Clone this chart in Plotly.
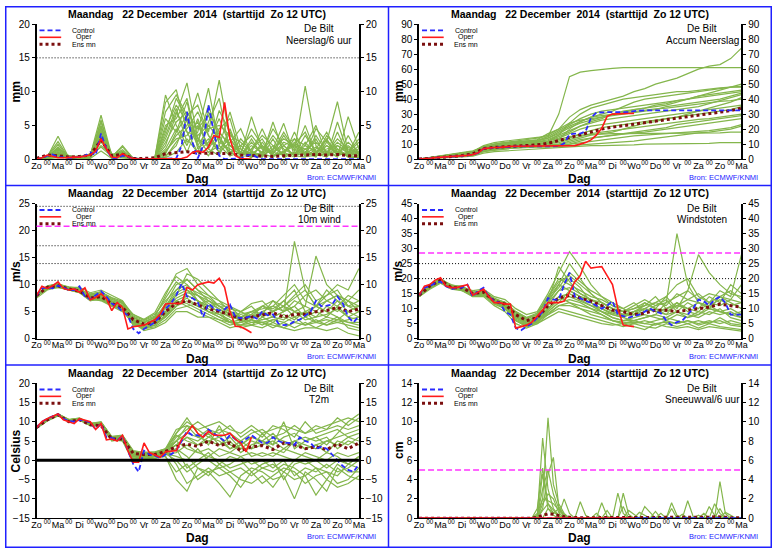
import plotly.graph_objects as go

# time axis (hours after Zo 12 UTC)
hours6 = list(range(0, 361, 6))
hours12 = list(range(0, 361, 12))
oper_hours = list(range(0, 241, 6))

day_names = ["Zo", "Ma", "Di", "Wo", "Do", "Vr", "Za", "Zo",
             "Ma", "Di", "Wo", "Do", "Vr", "Za", "Zo", "Ma"]
tick_text = []
for i in range(len(hours12)):
    tick_text.append(day_names[i // 2] if i % 2 == 0 else "<sup>00</sup>")

title_text = "Maandag\u00a0\u00a0 22 December\u00a0 2014\u00a0 (starttijd\u00a0 Zo 12 UTC)"

# ---------------- neerslag / 6 uur ----------------
precip_members = [
    [0,0.3,3.4,0.2,0.1,0.6,6.5,0.5,1.2,0,0,0.1,8.4,10.3,4.0,1.0,2.5,6.0,2.0,0.5,1.5,3.0,0.5,1.0,2.5,0.8,1.8,0.4,1.2,0.6,0.3],
    [0,0.1,1.5,0.5,0.2,0.3,5.8,0.3,2.0,0.1,0,0,2.0,6.5,11.3,3.0,1.0,2.0,7.0,1.5,0.3,1.0,4.5,2.0,0.5,1.0,0.3,2.5,8.5,1.0,0.5],
    [0,0.2,1.8,0.2,0.5,0.2,4.5,0.8,0.5,0,0,0,1.0,3.5,5.0,9.8,4.0,11.7,3.0,0.6,6.3,1.5,0.8,3.5,1.2,10.8,2.0,0.5,1.5,0.3,0.2],
    [0,0,0.8,0.1,0.3,0.8,3.2,0.2,0.4,0.1,0,0,0.5,2.0,6.0,2.5,8.0,3.0,1.0,2.0,0.5,0.3,2.0,0.5,4.0,0.5,1.0,3.0,0.4,6.3,1.5],
    [0,0.4,1.0,0.3,0.1,0.4,2.5,0.6,1.0,0.2,0,0.1,9.5,5.0,2.0,6.0,1.5,0.5,4.0,0.8,1.0,4.5,1.0,0.6,0.8,2.0,5.0,0.5,2.0,0.8,4.0],
    [0,0.1,0.5,0.2,0.2,0.2,3.8,0.2,0.6,0,0,0,0.2,1.0,3.0,1.0,5.5,9.0,1.0,0.3,3.0,0.5,1.5,5.3,0.5,1.5,0.4,2.0,1.0,2.0,0.8],
    [0,0.2,0.6,0.4,0.4,0.5,1.8,0.4,1.8,0.1,0,0,3.5,7.5,2.5,4.0,10.5,2.0,0.5,1.0,0.2,2.5,0.5,1.0,2.0,0.6,3.5,1.0,0.5,1.0,2.5],
    [0,0.3,2.2,0.1,0.1,0.4,4.8,0.3,0.3,0,0,0,6.0,4.0,8.5,1.5,3.0,1.0,2.5,4.5,0.8,0.4,3.0,0.2,1.0,5.0,0.8,0.3,4.0,0.5,1.0],
    [0,0.1,0.3,0.3,0.2,0.3,2.0,0.6,0.2,0.1,0,0,1.5,4.5,1.0,5.0,2.0,7.2,4.0,0.4,2.5,0.8,0.3,2.0,0.5,0.3,1.5,4.0,1.0,0.4,0.2],
    [0,0.2,1.2,0.2,0.3,0.7,5.0,0.2,0.9,0,0,0,4.5,8.0,5.5,2.0,0.5,3.5,0.5,3.0,1.2,0.5,5.5,1.0,0.3,2.5,0.6,1.2,0.3,3.5,0.6],
    [0,0,0.4,0.1,0.1,0.1,1.2,0.1,0.2,0,0,0,0.3,2.5,4.5,7.0,3.5,1.5,3.0,1.0,4.5,2.0,0.4,0.8,3.0,0.4,0.5,0.8,2.5,1.2,0.4],
    [0,0.3,0.9,0.5,0.2,0.3,3.0,0.5,1.4,0.1,0,0.1,7.0,9.5,6.5,3.0,2.0,4.5,6.0,0.5,0.4,1.0,1.2,4.0,1.5,0.8,3.0,0.3,5.5,0.8,1.2],
    [0,0.2,1.0,0.3,0.2,0.4,4.0,0.4,0.8,0,0,0,2.5,5.5,7.0,4.5,6.5,2.5,1.5,0.8,2.0,1.0,3.5,1.5,0.6,3.5,1.0,2.0,0.8,2.5,1.0],
    [0,0.1,0.7,0.2,0.1,0.5,2.8,0.3,0.5,0,0,0,1.2,3.0,3.5,5.5,1.5,4.0,2.0,1.5,0.6,2.0,0.8,2.5,1.8,1.2,0.5,3.5,1.5,0.5,2.0],
    [0,0.3,1.6,0.4,0.3,0.3,4.2,0.6,1.0,0.1,0,0,5.0,6.0,9.0,2.0,4.5,5.0,3.5,2.5,1.0,0.5,1.5,3.0,2.0,1.5,2.5,1.0,3.0,1.5,0.8],
    [0,0.1,0.6,0.1,0.2,0.2,3.5,0.2,0.7,0,0,0,0.8,4.0,6.5,8.0,3.5,1.0,4.5,0.5,1.5,3.5,2.0,0.5,1.0,0.8,4.5,2.5,0.6,1.0,3.0],
    [0,0.2,1.4,0.3,0.1,0.6,5.5,0.4,1.1,0,0,0.1,3.0,7.0,4.0,3.5,5.0,3.0,1.0,2.0,3.5,1.5,1.0,2.0,3.0,2.0,1.2,1.5,2.0,1.0,1.5],
    [0,0.4,2.6,0.2,0.3,0.4,3.0,0.5,0.6,0.1,0,0,4.0,9.0,6.0,2.5,7.0,4.0,2.0,1.0,0.8,1.8,0.6,1.2,2.2,4.0,0.8,2.8,1.0,1.8,0.6],
]
precip_control = [0,0.1,0.5,0.7,0.3,0.2,0.2,0.2,0.3,0.5,
                  1.0,0.6,3.8,1.5,0.2,0.1,0.5,0.3,0.1,0,
                  0,0,0,0,0,0,0.1,2.0,7.0,2.5,
                  0.1,2.0,8.0,4.0,0.5,0,0,0,0.1,0.5,
                  0.7,0.3,0,0,0,0,0,0,0,0,
                  0,0,0,0,0,0,0,0,0,0,
                  0]
precip_oper = [0,0.2,0.6,0.4,0.2,0.2,0.3,0.3,0.3,0.5,
               0.6,1.2,3.0,1.5,0.3,0.2,0.8,0.4,0.1,0,
               0,0,0,0,0,0,0,0.1,0.3,1.0,
               1.2,1.0,1.8,3.5,3.2,8.4,3.0,0.5,0.1,0,
               0]
precip_mean = [0.1,0.6,0.5,0.3,0.4,0.6,2.8,0.5,0.7,0.1,0.1,0.2,0.8,1.0,1.1,0.9,
               0.9,0.8,0.8,0.6,0.5,0.5,0.4,0.5,0.5,0.6,0.7,0.6,0.7,0.5,0.5]

# ---------------- accumulated neerslag ----------------
accum_members = [
    [0,1,2,3,3.5,5,9,11,12,13,14,14.5,15,30,55,58,59,60,60.5,61,61,61,61,61,61,61,61,61,61,61,61],
    [0,1,2,3,4,5.5,8,10,11,12,13,14,16,20,28,33,36,38,40,42,45,47,50,52,54,57,60,62,63,67,74],
    [0,0.5,1.5,2,2.5,4,7,8,9,9.5,10,10.5,11,13,20,25,28,30,32,35,38,40,41,42,43,44,45,46,47,48,48],
    [0,0.5,1,1.5,2,3,6,7,8,8.5,9,9,9.5,10,12,14,16,17,18,20,22,24,25,27,28,30,32,34,36,38,41],
    [0,1,2,2.5,3,4,7,8.5,9.5,10,10.5,11,12,15,18,22,25,27,30,32,33,34,35,36,38,40,42,44,46,48,50],
    [0,0.5,1,1.5,2,3,5,6,7,7.5,8,8,8.5,9,10,11,12,13,14,15,15.5,16,16.5,17,17.5,18,18.5,19,20,21,23],
    [0,1,1.5,2,3,4,7.5,9,10,10.5,11,11.5,12,16,24,26,27,28,30,31,33,34,36,37,39,40,42,43,44,45,46],
    [0,0.5,1,1.5,2,2.5,5,6.5,7,7.5,8,8,8,8.5,9,9.5,10,10.5,11,11.5,12,13,14,15,16,17,17.5,18,19,20,22],
    [0,1,2,3,4,5,8,10,11,11.5,12,12.5,14,18,22,25,28,29,30,31,32,33,33.5,34,35,36,37,38,38.5,39,40],
    [0,0.5,1.5,2.5,3,4,6.5,8,9,9,9.5,10,10.5,12,14,17,19,21,22,23,24,25,26,27,28,29,30,31,32,33,35],
    [0,0.5,1,2,2.5,3.5,6,7,7.5,8,8.5,9,9,9.5,10,12,14,15,16,17,18,19,20,21,23,24,25,26,27,28,29],
    [0,1,2,3,3.5,4.5,8,9.5,10.5,11,12,13,17,20,24,30,34,36,38,40,41,42,43,44,45,45,46,47,47.5,48,48.5],
    [0,0.3,0.8,1,1.5,2,4,5,5.5,6,6,6.5,7,7.5,8,8.5,9,9,9,9.5,9.5,10,10,10,10,10,10.5,10.5,11,11,11],
    [0,0.5,1.5,2,2.5,3.5,6.5,7.5,8.5,9,9.5,10,11,13,15,16,16.5,17,17,17,17,17,17,17.5,17.5,17.5,17.5,17.5,17.5,18,18],
    [0,0.5,1.5,2.5,3,4,7,8.5,9.5,10,10.5,11,12,14,17,20,22,23,24,25,26,27,28,29,30,31,32,33,34,35,36],
    [0,1,2,2.5,3.5,4.5,7.5,9,10,10.5,11,11.5,13,16,19,22,24,26,27,28,29,30,31,32,33,34,35,37,39,41,43],
    [0,0.5,1,2,2.5,3.5,6,7.5,8,8.5,9,9.5,10,11,13,15,17,18,19,20,21,22,23,24,25,26,26.5,27,28,29,30],
    [0,1,1.5,2.5,3,4.5,8,9.5,10.5,11,11.5,12,14,17,21,24,26,28,29,30,31,32,33,35,36,37,38,39,40,42,44],
    [0,0.5,1,1.5,2,3,5.5,7,7.5,8,8.5,8.5,9,10,11,13,14,15,16,17,17.5,18,19,20,21,22,23,24,25,26,27],
    [0,1,2,3,3.5,5,8.5,10,11,11.5,12,12.5,15,19,23,27,30,32,33,34,35,36,37,38,39,40,41,42,43,44,45],
]
accum_control = [0,0.1,0.5,1.0,1.2,1.4,1.6,1.8,2.0,2.4,
                 3.2,4.0,7.0,7.6,7.7,7.8,8.2,8.4,8.5,8.5,
                 8.5,8.5,8.5,8.5,8.5,8.5,8.6,10.5,16.5,17.0,
                 17.0,18.5,27.5,31.0,31.3,31.3,31.3,31.3,31.3,31.3,
                 32.0,32.5,32.5,32.5,32.5,32.5,32.5,32.5,32.5,32.5,
                 32.5,32.5,32.5,32.5,32.5,32.5,32.5,32.5,32.5,32.5,
                 32.5]
accum_oper = [0,0.1,0.6,1.0,1.2,1.4,1.6,1.8,2.1,2.5,
              3.0,4.2,7.0,7.5,7.7,7.8,8.3,8.5,8.6,8.6,
              8.6,8.6,8.6,8.6,8.6,8.6,8.6,8.6,8.7,9.0,
              10.0,11.0,12.8,16.0,20.5,28.5,30.0,30.3,30.4,30.4,
              30.5]
accum_mean = [0,0.6,1.3,1.8,2.3,3.5,7.0,7.8,8.3,8.6,8.8,9.5,10.5,12.5,14.5,16.5,
              18.2,20.0,21.3,22.3,23.2,24.2,25.0,25.9,26.8,27.8,28.8,29.9,31.0,32.3,34.0]

# ---------------- 10m wind ----------------
wind_members = [
    [8,9.5,10,9.5,9.5,8.5,9,8,7,4,3,4,8,12,13,10,8,6,5,4,5,6,7,5,6,8,9,7,8,7,6],
    [7.5,9,9.5,9,8.5,7,7.5,6,5,3,2,2.5,4,6,7,6,5,4,3,2.5,3,3.5,4,5,18,9,6,5,4,3,3],
    [8,9.8,10.2,9.3,9.2,8,8.5,7.5,6.5,4.5,3.5,4.5,7,9,11,9,7,6,6,5,4,6,5,6,5,6,15.3,10,8,7,9],
    [8,9.2,9.6,9,8.8,7.5,7,6,5.5,2.5,2,3,5,7,8,7,6,5,4,4,3,3,2,3,2,3,2,3,4,2,1.5],
    [7.8,9.6,9.9,9.4,9,8,8,7,6.5,3.5,2.5,3,6,9,10,8,6,5,3,3,4,5,6,8,10,7,6,8,10,9,13],
    [8.2,9.5,10,9.2,8.7,7.2,7.5,6.5,5.2,3,1.5,2,3,5,5,4,4,3,2,2.5,2.5,2,3,2,1.5,2,2,1.5,2,1,0.5],
    [8,9.3,9.5,9.1,8.9,8.2,8.7,7.2,6.8,4,3,4,6,8,9,7,5,4,3,5,6,4,5,7,9,5,4,6,5,7,5],
    [7.9,9.7,10.1,9.6,9.3,7.8,7.8,6.8,6,3,2.2,2.5,4.5,7,6,5,4,3.5,2.5,3,3.5,3,3.5,4,3,4,3,3.5,3,3.5,4],
    [8.1,9.4,9.8,9.3,8.6,7.6,7.3,6.2,5.5,3.8,3.2,3.8,5.5,8,12,11,9,7,6,4,5,4.5,5,6,4,5,6,5,7,5,6],
    [8,9.6,9.9,9.2,9,7.4,7.6,6.6,5.8,2.8,1.8,2.2,3.5,5.5,6,6.5,7,6,5,3,3.5,5,4,3.5,5,3.5,4,4.5,5.5,4,3.5],
    [8,9.5,10,9.4,8.7,7.9,8.2,7,6.2,3.4,2.6,3.3,5,7.5,8.5,8,7,5.5,4,3.5,4,4.5,7,6,8,10,7,8,9,6,5],
    [7.9,9.3,9.7,9.0,8.5,7.3,7.1,6.4,5.4,3.2,2.4,2.8,4.2,6.5,7.5,6,5,4.5,3.5,2,2.5,3,2.5,2,3,2.5,3.5,2.5,3,2.5,2],
    [8,9.4,9.8,9.3,9.1,7.7,8.0,6.9,6.1,3.6,2.9,3.6,6.5,10,11,9,8,7,5,4.5,5,5.5,6,5,7,6,5,7,6,8,7],
    [8,9.6,10,9.5,9.2,8.1,8.3,7.3,6.6,4.2,3.4,4.2,7.5,10.5,9,8,6.5,5.5,4.5,3.5,4.5,3.5,4,5,6,4,5,4,6,4,5],
    [7.9,9.2,9.6,9.0,8.6,7.1,7.2,6.1,5.3,2.6,1.9,2.5,4.0,6.0,8.0,7.0,5.5,4.5,3,3.5,2.5,4,3,4.5,3.5,5,3,4,3.5,5,4],
    [8.1,9.7,10.1,9.5,9.1,8.3,8.6,7.6,6.9,4.4,3.6,4.8,8.5,11.5,10,7,6,6.5,5.5,5,6.5,7,5,6,7.5,9,6,7,8,6,7],
    [7.8,9.3,9.7,9.1,8.7,7.3,7.4,6.3,5.6,3.1,2.3,3.1,4.8,7.0,6.5,5.5,4.5,3.5,3,2.5,3.5,2.5,3.5,3,4,2.5,3,2.5,3.5,3,2.5],
    [8,9.5,9.9,9.3,8.8,7.6,7.7,6.6,5.9,3.3,2.5,3.4,5.8,8.5,9.5,8.5,7.5,6,4.5,4,4.5,6,5.5,7,5,4.5,6,9,7,6,6],
]
wind_control = [8.0,9.3,9.5,9.3,9.8,9.5,9.0,9.0,9.7,7.8,
                7.3,8.0,8.8,7.8,6.5,6.0,5.0,4.3,1.8,1.0,
                1.8,2.4,3.0,4.2,5.5,6.5,8.0,10.2,7.8,7.5,
                6.8,4.0,6.5,5.6,5.2,5.4,6.3,4.0,3.8,3.9,
                4.2,3.7,5.0,4.3,4.5,2.8,2.5,2.6,3.2,3.5,
                4.2,5.0,7.0,6.0,6.1,6.3,7.8,6.5,4.0,3.0,
                4.2]
wind_oper = [8.0,9.7,9.3,9.8,10.5,9.3,9.0,9.2,8.6,9.4,
             7.2,7.6,8.3,7.4,5.2,6.7,5.8,1.8,2.2,2.3,
             2.5,3.0,3.5,4.5,6.4,6.5,6.5,6.5,9.5,9.0,
             10.0,10.3,10.5,10.3,11.2,9.5,5.0,2.3,2.2,1.7,
             1.1]
wind_mean = [8,9.5,9.8,9.2,8.8,7.5,7.8,6.5,5.8,3.5,2.7,3.0,5.0,6.5,7.0,6.3,
             5.5,5.0,4.5,3.6,4.0,4.3,4.8,4.0,4.5,4.5,5.0,5.2,5.8,5.0,5.5]

# ---------------- windstoten ----------------
gust_members = [
    [14,17,19,17,16.5,14,15,12,10,6,4,6,12,18,25,20,15,12,10,8,9,10,12,11,15,13,12,10,14,12,10],
    [14.5,17.5,20,17.5,17.5,15,16,13,12,8,6,7,10,14,12,11,10,9,7,6,6,7,8,12,35,18,12,10,9,8,7],
    [15,18,19.5,18,17,16,16.5,14,13,10,8,9,15,22,29,24,18,14,12,10,8,12,10,14,10,16,28,22,18,15,14],
    [14,16.5,18.5,16.5,16,14,14,11,9,5,3.5,5,8,10,9,8,7,6,5,4,5,4,3.5,5,4,5,3.5,5,4,3.5,3],
    [14.5,17,19,17,17,15,15,12.5,11.5,7,5,6,9,12,16,14,12,10,8,7,9,11,14,10,12,10,9,12,16,14,28],
    [15,17.5,19.5,17,16.5,15,15.5,12,10.5,6,4.5,5,7,9,8,7,6,5,4.5,5,4,3,5,4,3.5,4,3,4,3.5,3,2.5],
    [14.5,17.5,20,17.5,17,14.5,15,13,12,9,7,8,14,20,18,16,14,13,11,9,10,12,10,9,11,13,15,12,11,13,12],
    [14,17,19,17,16,14.5,14.5,12,11,7.5,5.5,6.5,11,16,20,17,12,9,7,6,7,8,7,6,8,7,9,8,10,7,6],
    [15,18,20,17.5,17.5,15.5,16,13.5,12,8.5,6.5,8,13,17,22,19,16,14,11,10,12,9,11,13,9,12,10,14,12,18,15],
    [14.5,17,19.5,17,17,15,15.5,12.5,11,6.5,4.5,5.5,9,12,13,12,10,8,6,5,6,5,6,7,6,5,6,5,7,5,4.5],
    [14.5,17.5,19.5,17.2,16.8,14.8,15.2,12.7,11.5,7.5,5.5,6.5,12,24,19,15,13,11,9,8,8,10,9,8,12,9,8,11,9,10,8],
    [14,17,19.5,17,17,15,15,12,10.5,7,5,6,8,11,12,10,9,8,6,5.5,5,6,5,5.5,5,6,5,6,5,6,5],
    [14.5,17.5,19.5,17.5,17,15,15.5,13,11.5,8,6,7.5,12,16,17,15,13,11,9,8,9,10,9,10,11,10,12,11,13,11,12],
    [14,17,19,16.8,16.5,14.5,15,12.2,10.8,7,5,6,10,14,15,13,11,9,8,7,6,7,8,7,9,8,7,9,8,9,7],
    [15,18,20,17.8,17.3,15.5,16,13.2,12.2,9,7,8.5,14,19,21,18,15,12,10,9,11,13,11,12,14,16,13,15,14,16,13],
    [14.5,17,19,17,16.8,14.8,15,12.3,11,7,5,6,9.5,13,14,12.5,11,10,8.5,7.5,8,9,10,8,9,7,8,10,9,8,9],
    [14,16.8,18.8,16.8,16.3,14.3,14.5,11.5,10,6,4,5.5,8.5,11,11,10,8,7,6,5,5.5,5,4.5,6,5,6,4.5,5.5,6,4.5,4],
    [15,17.8,19.8,17.6,17.2,15.2,15.8,13,12,8.8,6.8,8,13.5,18,16,14,13,12,10,9,10,11,12,14,18,20,14,12,14,13,18],
]
gust_control = [14.5,17.0,17.5,18.5,19.0,17.5,16.5,17.0,17.0,18.0,
                14.0,16.0,17.0,14.0,12.5,12.0,9.0,8.0,3.5,2.8,
                4.0,5.0,7.0,9.0,13.5,13.0,13.0,18.0,22.0,14.0,
                13.5,12.5,12.0,11.0,10.0,11.0,12.5,8.0,7.5,7.0,
                7.5,8.0,9.0,10.0,9.0,8.5,6.0,4.5,5.5,6.0,
                8.0,10.0,13.0,12.5,11.0,13.0,14.0,12.0,8.0,8.0,
                8.0]
gust_oper = [14.5,17.5,18.0,19.5,20.3,17.5,17.0,17.0,17.5,18.0,
             14.5,15.5,16.5,14.0,12.0,12.0,11.5,11.5,3.5,4.0,
             4.5,5.5,7.5,9.5,12.0,12.0,12.0,12.5,15.5,19.0,
             21.0,25.8,23.5,23.8,24.0,21.0,18.0,10.0,4.5,4.2,
             4.0]
gust_mean = [14.5,17.5,19.5,17,17,15,15.5,12.5,11.5,8,6,7,11,13.5,14.5,13.5,
             12.5,11,9.5,9,8,8.5,9.5,9.5,9,9.5,10,10.5,11.5,11,10.5]

# ---------------- T2m ----------------
temp_members = [
    [8.5,10.5,12,10.5,11,9.5,10,6,6,1,2,1,2,5,9,6,5,4,6,3,5,4,6,5,4,3,4,5,6,7,8],
    [8.3,10.2,11.5,10,10.5,9,9,5,5.5,0,0,1,1,-5,-8,-2,-3,-6,-9.5,-4,-2,-3,-5,-4,-10,-3,-5,-8,-2,-4,-5],
    [8.7,10.8,12,10.5,10.8,9.5,9.8,6,5,1.5,1,1.5,3,7,10,8,6,8,7,5,7,8,6,7,9,7,8,9,10,11,10],
    [8.5,10.3,11.7,10.2,10.5,9,9.2,5.5,5.5,0.5,0.5,0.5,1.5,3,-2,0,2,-1,1,0,-3,-1,0,-5,-1,0,-2,-5,-1,-3,-3],
    [8.6,10.6,11.8,10.4,10.7,9.4,9.6,5.8,6.2,2,1.5,2,2.5,4,6,5,7,4,5,2,4,5,3,2,5,3,4,2,5,4,6],
    [8.4,10.4,11.6,10.1,10.4,9.1,9.1,5.2,5,-0.5,0,0.5,1,-3,-1,-5,-3,-2,-4,-7,-3,-6,-4,-2,-3,-6,-4,-3,-6,-5,-2],
    [8.5,10.5,11.9,10.3,10.6,9.3,9.4,5.6,5.8,1.8,1.8,1.8,2.2,6,8,10,8,7,9,6,8,6,9,8,6,10,7,8,11,9,11],
    [8.6,10.7,12,10.6,10.9,9.6,9.7,6.2,6.5,2.5,2,2.2,3,5,3,2,3,1,2,4,1,2,1,3,2,1,0,2,1,-1,1],
    [8.5,10.4,11.7,10.2,10.5,9.2,9.3,5.4,5.2,1,1,1.2,1.8,1,0,3,0,-2,-1,1,-1,0,-2,0,-4,-2,-3,-1,-3,-2,0],
    [8.4,10.5,11.8,10.4,10.6,9.2,9.4,5.6,5.7,1.5,1.2,1.4,2,4,6,4,5,6,3,4,6,5,7,4,5,6,5,6,3,5,4],
    [8.5,10.6,11.9,10.4,10.8,9.4,9.5,5.8,6,1.6,1.4,1.6,2.4,-1,-6,-4,-2,-4,-3,-5,-6,-4,-7,-3,-5,-4,-9,-5,-7,-6,-4],
    [8.6,10.5,11.8,10.3,10.7,9.3,9.6,5.7,5.9,1.7,1.6,1.7,2.5,7,11,7,4,9,4,3,3,7,4,10,3,5,6,4,7,10,12],
    [8.5,10.4,11.8,10.2,10.6,9.3,9.4,5.6,5.6,1.4,1.2,1.3,2.1,5,7,6,8,6,7,4,6,5,4,6,7,5,6,7,8,6,7],
    [8.4,10.3,11.6,10.1,10.4,9.1,9.2,5.3,5.3,0.8,0.6,0.9,1.6,2,4,2,1,3,2,1,2,1,2,1,0,2,1,0,2,1,2],
    [8.6,10.6,11.9,10.5,10.8,9.5,9.7,6.0,6.3,2.2,2.1,2.0,2.8,6.5,5,4,6,5,3,5,3,4,5,3,5,4,3,5,4,6,5],
    [8.5,10.5,11.7,10.2,10.5,9.2,9.3,5.5,5.4,1.2,0.9,1.1,1.7,0,-3,-1,1,0,-2,-1,0,-2,-1,-3,0,-1,0,-2,0,-1,1],
    [8.6,10.7,11.9,10.5,10.9,9.5,9.8,6.1,6.4,2.3,1.9,2.1,3.0,8,9,8,9,10,8,7,9,7,8,9,8,7,9,8,9,8,9],
    [8.4,10.4,11.7,10.2,10.5,9.2,9.3,5.5,5.5,1.1,0.8,1.0,1.9,3,1,-2,-4,-1,-3,-2,-4,-2,-3,-1,-2,-4,-2,-3,-4,-1,-2],
]
temp_control = [8.5,10.0,10.8,11.3,12.0,10.8,10.2,10.0,10.5,10.3,
                9.8,8.0,9.5,6.0,5.8,5.2,6.3,2.5,-1.0,-3.0,
                2.5,1.5,1.2,0.6,1.5,1.5,2.5,5.0,7.5,6.5,
                6.5,6.0,8.0,7.0,6.0,5.0,6.5,5.5,4.5,5.5,
                6.5,5.5,4.5,4.5,6.0,5.0,4.5,4.5,4.0,6.0,
                5.0,4.5,3.0,3.5,3.0,1.5,0.0,-1.5,-2.5,-3.0,
                -1.0]
temp_oper = [8.5,10.0,10.8,11.5,12.0,10.5,10.0,9.5,10.8,10.5,
             10.0,8.0,9.5,5.3,5.5,5.0,6.5,2.5,-0.5,-0.5,
             4.5,2.0,1.5,0.8,2.2,2.3,2.5,5.5,7.0,9.0,
             7.0,6.0,7.5,6.5,6.5,6.5,7.0,5.5,4.5,2.2,
             6.0]
temp_mean = [8.5,10.5,11.8,10.0,10.5,9.2,9.0,5.5,5.5,1.8,1.5,1.5,2.3,3.5,4.2,3.6,
             5.0,3.8,4.5,2.5,3.5,3.8,2.8,4.5,4.0,3.0,3.5,2.8,4.2,3.0,4.5]

# ---------------- sneeuwval / 6 uur (6-hourly) ----------------
snow_members = [
    [0,0,0,0,0,0,0,0,0,0, 0,0,0,0,0,0,0,0,0,0, 0,0,0.2,8.3,3.0,1.0,0.3,2.0,0.5,0,
     0,0,0,0,0,0,0,2.6,0.5,0, 0,0,0,0,0,0,0,0,0,0, 0,0,0,0,0,0,3.8,0.5,0,0, 0],
    [0,0,0,0,0,0,0,0,0,0, 0,0,0,0,0,0,0,0,0,0, 0,0,0.5,2.0,10.4,3.5,1.5,0.5,0,0,
     1.7,0.3,0,0,0,0,0,0,0,0, 0,0,0,0,0,0,0,1.6,0.3,0, 0,0,0,0,0,0,0,0,0,0, 0],
    [0,0,0,0,0,0,0,0,0,0, 0,0,0,0,0,0,0,0,0,0, 0,0,0,1.0,4.5,6.3,1.2,0.3,0,0,
     0,0,0,0,1.6,0.2,0,0,0,0, 0,0,0,0,0,0,0,0,0,0, 1.8,0.2,0,0,0,0,0,0,0,0, 0],
    [0,0,0,0,0,0,0,0,0,0, 0,0,0,0,0,0,0,0,0,0, 0,0,1.0,5.2,1.5,0.8,0.2,0,0,0,
     0,0,0,0,0,0,0,0,2.6,0.4, 0,0,0,0,0,0,0,0,0,0, 0,0,0,0,0,1.5,0.5,0,0,0, 0],
    [0,0,0,0,0,0,0,0,0,0, 0,0,0,0,0,0,0,0,0,0, 0,0,0,2.0,1.8,1.5,0.8,0.2,0,0,
     0,0,0,0,0,0,0,0,0,0, 0,0,1.2,0.6,0,0,0,0,0,0, 0,0,0,0,1.2,0.3,0,0,0,0, 0],
    [0,0,0,0,0,0,0,0,0,0, 0,0,0,0,0,0,0,0,0,0, 0,0,0,0.8,1.5,0.5,1.0,0.3,0,0,
     0,0,0,0,0,0,0,0,0,0.8, 0.4,0,0,0,0,0,0,1.0,0,0, 0,0,0,0,0,0,0,0,0,0, 0],
    [0,0,0,0,0,0,0,0,0,0, 0,0,0,0,0,0,0,0,0,0, 0,0,0,0,1.0,0.6,0.3,0,0,0,
     0,0,0,0.5,0,0,0,0,0,0, 0,0,0,0,0,0,0,0,0,0, 0,0,0,0,0,0,0,0.6,0.3,0, 0],
    [0,0,0,0,0,0,0,0,0,0, 0,0,0,0,0,0,0,0,0,0, 0,0,0,4.6,1.0,0.3,0,0,0,0,
     0,0,0,0,0,0,0,0,0,0, 0,0.6,0.3,0,0,0,0,0,0,0.4, 0,0,0.3,0,0,0,0,0,0,0, 0],
    [0,0,0,0,0,0,0,0,0,0, 0,0,0,0,0,0,0,0,0,0, 0,0,0.3,3.0,5.0,2.5,1.0,0.4,0,0,
     0,0,0,0,0,0,0,0,1.2,0, 0,0,0,0,0,0.5,0,0,0,0, 0,0,0,0,0,0,1.0,0,0,0, 0],
    [0,0,0,0,0,0,0,0,0,0, 0,0,0,0,0,0,0,0,0,0, 0,0,0,1.5,2.5,2.0,0.6,0,0,0,
     0,0,0,0,0,0.8,0,0,0,0, 0,0,0,0,0.7,0,0,0,0,0, 0,0,0,0.5,0,0,0,0,0,0, 0],
]
snow_control = [0,0,0,0,0,0,0,0,0,0, 0,0,0,0,0,0,0,0,0,0, 0,0,0,0,0,0,0,0,0,0,
                0,0,0,0,0,0,0,0,0,0, 0,0,0,0,0,0,0,0,0,0, 0,0,0,0,0,0,0,0,0,0, 0]
snow_oper = [0,0,0,0,0,0,0,0,0,0, 0,0,0,0,0,0,0,0,0,0, 0,0,0,0,0,0,0,0,0,0,
             0,0,0,0,0,0,0,0,0,0, 0]
snow_mean = [0,0,0,0,0,0,0,0,0,0, 0,0,0,0,0,0,0,0,0,0,
             0,0,0.1,0.3,0.45,0.4,0.25,0.15,0.1,0.05,
             0.05,0.05,0.05,0.05,0.05,0.05,0.05,0.05,0.05,0.05,
             0.05,0.05,0.05,0.05,0.05,0.05,0.05,0.05,0.05,0.05,
             0.05,0.05,0.05,0.05,0.1,0.15,0.15,0.1,0.05,0.05, 0.05]

# threshold lines
precip_dotted = [15]
wind_dotted = [10.8, 13.9, 17.2, 24.5]
wind_magenta = [20.8]
gust_dotted = [20, 25]
gust_magenta = [28.5]
snow_magenta = [5]

panels = [
    dict(pos=(0, 0), ylab="mm", label="Neerslag/6 uur", yr=[0, 20], dt=5,
         mem=precip_members, mx=hours12, ctl=precip_control, op=precip_oper,
         mean=precip_mean, meanx=hours12, dotted=precip_dotted, magenta=[]),
    dict(pos=(0, 1), ylab="mm", label="Accum Neerslag", yr=[0, 90], dt=10,
         mem=accum_members, mx=hours12, ctl=accum_control, op=accum_oper,
         mean=accum_mean, meanx=hours12, dotted=[], magenta=[]),
    dict(pos=(1, 0), ylab="m/s", label="10m wind", yr=[0, 25], dt=5,
         mem=wind_members, mx=hours12, ctl=wind_control, op=wind_oper,
         mean=wind_mean, meanx=hours12, dotted=wind_dotted, magenta=wind_magenta),
    dict(pos=(1, 1), ylab="m/s", label="Windstoten", yr=[0, 45], dt=5,
         mem=gust_members, mx=hours12, ctl=gust_control, op=gust_oper,
         mean=gust_mean, meanx=hours12, dotted=gust_dotted, magenta=gust_magenta),
    dict(pos=(2, 0), ylab="Celsius", label="T2m", yr=[-15, 20], dt=5,
         mem=temp_members, mx=hours12, ctl=temp_control, op=temp_oper,
         mean=temp_mean, meanx=hours12, dotted=[], magenta=[], zero=True),
    dict(pos=(2, 1), ylab="cm", label="Sneeuwval/6 uur", yr=[0, 14], dt=2,
         mem=snow_members, mx=hours6, ctl=snow_control, op=snow_oper,
         mean=snow_mean, meanx=hours6, dotted=[], magenta=snow_magenta),
]

W, H = 778, 554
FONT = "Liberation Sans"
GREEN = "#84b64c"
BLUE = "#2a2aff"
RED = "#ff1a1a"
MEAN = "#7b0f0f"


def px(x):
    return x / W


def py(y):
    return 1 - y / H


def ref(kind, n):
    return kind if n == 1 else f"{kind}{n}"


panel_top = [0, 183.5, 367]
panel_left = [0, 388]
plot_x = [(32, 359), (420, 747)]

fig = go.Figure()
shapes = []
annotations = []
layout = {}

for n, p in enumerate(panels, start=1):
    r, c = p["pos"]
    top, left = panel_top[r], panel_left[c]
    x0, x1 = plot_x[c]
    y0, y1 = top + 18.5, top + 156.5
    xa, ya, yr2 = ref("x", n), ref("y", n), ref("y", n + 6)

    for m in p["mem"]:
        fig.add_trace(go.Scatter(x=p["mx"], y=m, mode="lines",
                                 line=dict(color=GREEN, width=1.2),
                                 xaxis=xa, yaxis=ya, hoverinfo="skip"))
    fig.add_trace(go.Scatter(x=p["meanx"], y=p["mean"], mode="lines",
                             line=dict(color=MEAN, width=3, dash="dot"),
                             xaxis=xa, yaxis=ya, hoverinfo="skip"))
    fig.add_trace(go.Scatter(x=hours6, y=p["ctl"], mode="lines",
                             line=dict(color=BLUE, width=1.8, dash="5px,3px"),
                             xaxis=xa, yaxis=ya, hoverinfo="skip"))
    fig.add_trace(go.Scatter(x=oper_hours, y=p["op"], mode="lines",
                             line=dict(color=RED, width=1.6),
                             xaxis=xa, yaxis=ya, hoverinfo="skip"))
    # dummy trace so the right-hand axis exists
    fig.add_trace(go.Scatter(x=[None], y=[None], xaxis=xa, yaxis=yr2,
                             hoverinfo="skip"))

    layout[ref("xaxis", n)] = dict(
        domain=[px(x0), px(x1)], range=[0, 360], anchor=ya,
        tickmode="array", tickvals=hours12, ticktext=tick_text, tickangle=0,
        tickfont=dict(family=FONT, size=9, color="black"),
        ticklabelstandoff=-2,
        showline=True, linecolor="black", linewidth=1,
        ticks="", showgrid=False, zeroline=False, fixedrange=True)
    yax = dict(domain=[py(y1), py(y0)], range=p["yr"], dtick=p["dt"],
               tickfont=dict(family=FONT, size=10, color="black"),
               showline=True, linecolor="black",
               linewidth=1.5, ticks="outside", ticklen=3, tickcolor="black",
               showgrid=False, zeroline=False, anchor=xa, fixedrange=True)
    layout[ref("yaxis", n)] = dict(yax, side="left")
    layout[ref("yaxis", n + 6)] = dict(yax, side="right", overlaying=ya)

    for v in p["dotted"]:
        shapes.append(dict(type="line", xref=f"{xa} domain", x0=0, x1=1,
                           yref=ya, y0=v, y1=v, layer="below",
                           line=dict(color="black", width=1, dash="1px,2px")))
    for v in p["magenta"]:
        shapes.append(dict(type="line", xref=f"{xa} domain", x0=0, x1=1,
                           yref=ya, y0=v, y1=v, layer="above",
                           line=dict(color="#ff33ff", width=1.5, dash="6px,3px")))
    if p.get("zero"):
        shapes.append(dict(type="line", xref=f"{xa} domain", x0=0, x1=1,
                           yref=ya, y0=0, y1=0, layer="above",
                           line=dict(color="black", width=3)))

    # legend samples
    for k, (lab, st) in enumerate([
            ("Control", dict(color=BLUE, width=1.8, dash="5px,3px")),
            ("Oper", dict(color=RED, width=1.6)),
            ("Ens mn", dict(color=MEAN, width=3, dash="dot"))]):
        yy = top + 25 + 7 * k
        shapes.append(dict(type="line", xref="paper", yref="paper",
                           x0=px(left + 35), x1=px(left + 57),
                           y0=py(yy), y1=py(yy), line=st))
        annotations.append(dict(text=lab, x=px(left + 80), y=py(yy),
                                font=dict(family=FONT, size=7, color="black")))

    annotations += [
        dict(text="<b>" + title_text + "</b>", x=px(left + 195), y=py(top + 8),
             font=dict(family=FONT, size=10.5, color="black")),
        dict(text="De Bilt", x=px(left + 319), y=py(top + 23.5),
             font=dict(family=FONT, size=10, color="black")),
        dict(text=p["label"], x=px(left + 319), y=py(top + 35),
             font=dict(family=FONT, size=10, color="black")),
        dict(text="<b>Dag</b>", x=px(left + 195), y=py(top + 177),
             font=dict(family=FONT, size=12, color="black")),
        dict(text="Bron: ECMWF/KNMI", x=px(left + 341), y=py(top + 175),
             font=dict(family=FONT, size=7.5, color="#1a1aff")),
        dict(text="<b>" + p["ylab"] + "</b>", x=px(left + 11),
             y=py((y0 + y1) / 2), textangle=-90,
             font=dict(family=FONT, size=12, color="black")),
    ]

for a in annotations:
    a.setdefault("xref", "paper")
    a.setdefault("yref", "paper")
    a.setdefault("showarrow", False)
    a.setdefault("xanchor", "center")
    a.setdefault("yanchor", "middle")

# blue frame around and between the panels
frame = dict(color="#2020ff", width=1.5)
shapes += [
    dict(type="rect", xref="paper", yref="paper", x0=px(0.75), x1=px(W - 0.75),
         y0=py(H - 0.75), y1=py(0.75), line=frame),
    dict(type="line", xref="paper", yref="paper", x0=px(389), x1=px(389),
         y0=0, y1=1, line=frame),
    dict(type="line", xref="paper", yref="paper", x0=0, x1=1,
         y0=py(183.5), y1=py(183.5), line=frame),
    dict(type="line", xref="paper", yref="paper", x0=0, x1=1,
         y0=py(367), y1=py(367), line=frame),
]

fig.update_layout(width=W, height=H, margin=dict(l=0, r=0, t=0, b=0),
                  paper_bgcolor="white", plot_bgcolor="white",
                  showlegend=False, shapes=shapes, annotations=annotations,
                  **layout)

fig.write_html("out.html", config={"displayModeBar": False},
               post_script="document.body.style.margin='0';"
                           "document.body.style.overflow='hidden';")
